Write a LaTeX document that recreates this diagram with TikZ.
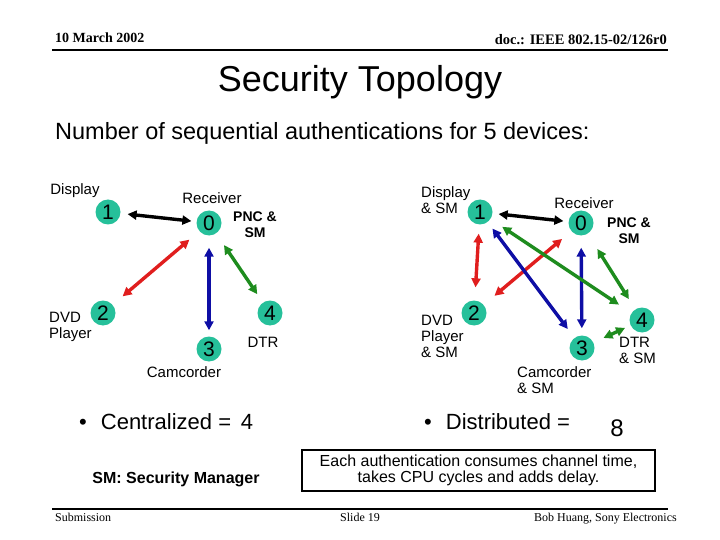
\documentclass[tikz,border=0pt]{standalone}
\usepackage{fontspec}
\setmainfont{Liberation Sans}
\newfontfamily\timesfont{Liberation Serif}
\usetikzlibrary{arrows.meta,positioning}

\definecolor{devteal}{RGB}{38,192,154}
\definecolor{linkred}{RGB}{224,30,30}
\definecolor{linkblue}{RGB}{14,14,165}
\definecolor{linkgreen}{RGB}{30,140,30}

\tikzset{
  dev/.style={circle,fill=devteal,minimum size=25pt,inner sep=0pt,
    font=\fontsize{21}{21}\selectfont},
  lbl/.style={inner sep=0pt,align=left,font=\fontsize{15}{16}\selectfont},
  role/.style={inner sep=0pt,align=center,font=\fontsize{14}{16}\selectfont\bfseries},
  link/.style={{Triangle[length=9pt,width=9pt]}-{Triangle[length=9pt,width=9pt]},
    line width=3.4pt,draw=#1},
  foot/.style={inner sep=0pt,anchor=base,font=\timesfont\fontsize{12}{12}\selectfont}
}

\begin{document}
\begin{tikzpicture}[x=1pt,y=-1pt]
\useasboundingbox (0,0) rectangle (720,540);

% header and footer
\node[inner sep=0pt,anchor=base west,font=\timesfont\bfseries\fontsize{14}{14}\selectfont] (date) at (55,43) {10 March 2002};
\node[inner sep=0pt,anchor=base east,font=\timesfont\bfseries\fontsize{14.5}{14}\selectfont] (doc) at (667,45) {doc.: IEEE 802.15-02/126r0};
\draw[line width=2pt] (52,50) -- (668,50);
\draw[line width=2pt] (52,509) -- (668,509);
\node[foot,anchor=base west] (sub) at (55,521) {Submission};
\node[foot] (slide) at (360,521) {Slide 19};
\node[foot,anchor=base east] (author) at (677,521) {Bob Huang, Sony Electronics};

% titles
\node[inner sep=0pt,font=\fontsize{36}{36}\selectfont] (title) at (360,82) {Security Topology};
\node[inner sep=0pt,anchor=west,font=\fontsize{23.5}{24}\selectfont] (count) at (55,133) {Number of sequential authentications for 5 devices:};

% centralized
\node[dev] (c1) at (108,212) {1};
\node[dev] (c0) at (209,223) {0};
\node[dev] (c2) at (103,313) {2};
\node[dev] (c3) at (209,349) {3};
\node[dev] (c4) at (270,313) {4};
\node[lbl] (c1l) at (75,191) {Display};
\node[lbl] (c0l) at (212,198) {Receiver};
\node[role] (c0r) at (255,225) {PNC \&\\SM};
\node[lbl,anchor=west] (c2l) at (49,327) {DVD\\Player};
\node[lbl] (c3l) at (184,372) {Camcorder};
\node[lbl] (c4l) at (263,342) {DTR};
\draw[link=black,shorten <=7pt,shorten >=5pt] (c1) -- (c0);
\draw[link=linkred,shorten <=13pt,shorten >=13pt] (c0) -- (c2);
\draw[link=linkblue,shorten <=12pt,shorten >=6pt] (c0) -- (c3);
\draw[link=linkgreen,shorten <=14pt,shorten >=10pt] (c0) -- (c4);

% distributed
\node[dev] (d1) at (480,212) {1};
\node[dev] (d0) at (581,223) {0};
\node[dev] (d2) at (474,313) {2};
\node[dev] (d3) at (582,348) {3};
\node[dev] (d4) at (642,320) {4};
\node[lbl,anchor=west] (d1l) at (421,200) {Display\\\& SM};
\node[lbl] (d0l) at (584,203) {Receiver};
\node[role] (d0r) at (629,231) {PNC \&\\SM};
\node[lbl,anchor=west] (d2l) at (421,336) {DVD\\Player\\\& SM};
\node[lbl,anchor=west] (d3l) at (517,380) {Camcorder\\\& SM};
\node[lbl,anchor=west] (d4l) at (619,350) {DTR\\\& SM};
\draw[link=black,shorten <=6pt,shorten >=5pt] (d1) -- (d0);
\draw[link=linkred,shorten <=9pt,shorten >=13pt] (d1) -- (d2);
\draw[link=linkred,shorten <=12pt,shorten >=14pt] (d0) -- (d2);
\draw[link=linkblue,shorten <=8pt,shorten >=11pt] (d1) -- (d3);
\draw[link=linkblue,shorten <=12pt,shorten >=7pt] (d0) -- (d3);
\draw[link=linkgreen,shorten <=14pt,shorten >=15pt] (d1) -- (d4);
\draw[link=linkgreen,shorten <=18pt,shorten >=12pt] (d0) -- (d4);
\draw[link=linkgreen,shorten <=11pt,shorten >=6pt] (d3) -- (d4);

% results
\node[inner sep=0pt,anchor=west,font=\fontsize{22}{22}\selectfont] (cent) at (79,422) {\textbullet\hspace{14pt}Centralized = \,4};
\node[inner sep=0pt,anchor=west,font=\fontsize{22}{22}\selectfont] (dist) at (424,422) {\textbullet\hspace{14pt}Distributed =};
\node[inner sep=0pt,font=\fontsize{24}{24}\selectfont] (dnum) at (617,428) {8};
\node[inner sep=0pt,font=\fontsize{16}{16}\selectfont\bfseries] (smkey) at (176,479) {SM: Security Manager};
\node[draw,line width=1.2pt,minimum width=353pt,minimum height=41pt,align=center,inner sep=0pt,
  font=\fontsize{16}{16.5}\selectfont] (note) at (478.5,470.5)
  {Each authentication consumes channel time,\\takes CPU cycles and adds delay.};
\end{tikzpicture}
\end{document}
